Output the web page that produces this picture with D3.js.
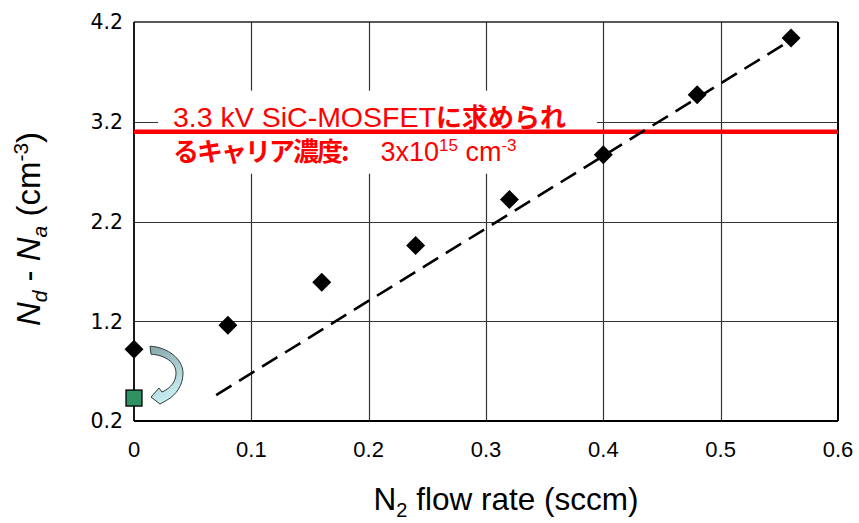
<!DOCTYPE html>
<html>
<head>
<meta charset="utf-8">
<script src="https://cdn.jsdelivr.net/npm/d3@7"></script>
<style>
  body { margin: 0; background: #fff; }
  svg { display: block; }
</style>
</head>
<body>
<svg id="chart"></svg>
<script>
// Data
const flowRate = [0, 0.08, 0.16, 0.24, 0.32, 0.40, 0.48, 0.56];
const carrierConc = [0.92, 1.16, 1.59, 1.96, 2.42, 2.87, 3.47, 4.04];
const annealedFlow = [0];
const annealedConc = [0.43];
const fitFlow = [0.07, 0.56];
const fitConc = [0.46, 4.02];
const targetConc = 3.1;
const xTicks = [0, 0.1, 0.2, 0.3, 0.4, 0.5, 0.6];
const yTicks = [0.2, 1.2, 2.2, 3.2, 4.2];

const width = 859, height = 523;
const margin = { top: 22, right: 21, bottom: 102, left: 134 };
const innerW = width - margin.left - margin.right;
const innerH = height - margin.top - margin.bottom;

const svg = d3.select("#chart").attr("width", width).attr("height", height);
const g = svg.append("g").attr("transform", `translate(${margin.left},${margin.top})`);

const x = d3.scaleLinear().domain([0, 0.6]).range([0, innerW]);
const y = d3.scaleLinear().domain([0.2, 4.2]).range([innerH, 0]);

// grid lines
g.selectAll(".vgrid").data(xTicks.slice(1, -1)).enter().append("line")
  .attr("x1", d => Math.round(x(d)) + 0.5).attr("x2", d => Math.round(x(d)) + 0.5)
  .attr("y1", 0).attr("y2", innerH)
  .attr("stroke", "#333").attr("stroke-width", 1.2);
g.selectAll(".hgrid").data(yTicks.slice(1, -1)).enter().append("line")
  .attr("x1", 0).attr("x2", innerW)
  .attr("y1", d => Math.round(y(d)) + 0.5).attr("y2", d => Math.round(y(d)) + 0.5)
  .attr("stroke", "#333").attr("stroke-width", 1.2);

// frame
g.append("line").attr("x1", 0).attr("x2", innerW).attr("y1", 0).attr("y2", 0)
  .attr("stroke", "#222").attr("stroke-width", 1.5);
g.append("line").attr("x1", innerW).attr("x2", innerW).attr("y1", 0).attr("y2", innerH)
  .attr("stroke", "#000").attr("stroke-width", 2);
g.append("line").attr("x1", 0).attr("x2", innerW).attr("y1", innerH).attr("y2", innerH)
  .attr("stroke", "#000").attr("stroke-width", 2.2);
g.append("line").attr("x1", 0).attr("x2", 0).attr("y1", 0).attr("y2", innerH)
  .attr("stroke", "#000").attr("stroke-width", 1.8);

// annotation text with white background
const note = g.append("g");
const noteBg = note.append("rect").attr("fill", "#fff");
const noteText = note.append("g").attr("fill", "#ff0000");
const latin = "'Liberation Sans', Arial, sans-serif";
const cjk = "'Noto Sans CJK JP', sans-serif";

const line1 = noteText.append("text")
  .attr("x", 39).attr("y", y(targetConc) - 5);
line1.append("tspan").style("font-family", latin).style("font-size", "28.5px")
  .text("3.3 kV SiC-MOSFET");
line1.append("tspan").style("font-family", cjk).style("font-size", "26px")
  .style("font-weight", "bold").text("に求められ");

const line2 = noteText.append("text")
  .attr("x", 39).attr("y", y(targetConc) + 29)
  .style("font-size", "27px");
line2.append("tspan").style("font-family", cjk).style("font-size", "26px")
  .style("letter-spacing", "-2px")
  .style("font-weight", "bold").text("るキャリア濃度:");
line2.append("tspan").attr("dx", 33).style("font-family", latin)
  .text("3x10");
line2.append("tspan").attr("dy", -10).style("font-family", latin)
  .style("font-size", "17px").text("15");
line2.append("tspan").attr("dy", 10).style("font-family", latin)
  .text(" cm");
line2.append("tspan").attr("dy", -10).style("font-family", latin)
  .style("font-size", "17px").text("-3");

const bb = noteText.node().getBBox();
noteBg.attr("x", bb.x - 15).attr("y", bb.y - 6)
  .attr("width", bb.width + 46).attr("height", bb.height + 12);

// required concentration line
g.append("line")
  .attr("x1", x(0)).attr("x2", x(0.6))
  .attr("y1", y(targetConc)).attr("y2", y(targetConc))
  .attr("stroke", "#ff0000").attr("stroke-width", 4.5);
noteText.raise();

// fit line
g.append("path")
  .datum(fitFlow.map((f, i) => [f, fitConc[i]]))
  .attr("fill", "none").attr("stroke", "#000")
  .attr("stroke-width", 2.6).attr("stroke-dasharray", "18,9")
  .attr("d", d3.line().x(d => x(d[0])).y(d => y(d[1])));

// curved arrow from as-grown point to annealed point
const defs = svg.append("defs");
const grad = defs.append("linearGradient").attr("id", "arrowGrad")
  .attr("x1", "0").attr("y1", "0").attr("x2", "0.3").attr("y2", "1");
grad.append("stop").attr("offset", "0").attr("stop-color", "#87a6a7");
grad.append("stop").attr("offset", "1").attr("stop-color", "#c9eef2");
const ax = x(annealedFlow[0]);
const ay0 = y(carrierConc[0]);
const dyArrow = y(annealedConc[0]) - ay0;
g.append("path")
  .attr("transform", `translate(${ax},${ay0})`)
  .attr("d", `M16,-3 C34,-2 49,10 49,24 C49,36 42,${dyArrow - 3} 33,${dyArrow + 2}
    L26,${dyArrow + 6} L17,${dyArrow - 1} L25,${dyArrow - 10} L28,${dyArrow - 6}
    C37,${dyArrow - 10} 42,32 42,24 C42,13 31,6 17,5 Z`)
  .attr("fill", "url(#arrowGrad)").attr("stroke", "#2c3b3b").attr("stroke-width", 1);

// data points (diamonds)
g.selectAll(".pt").data(flowRate.map((f, i) => [f, carrierConc[i]])).enter()
  .append("path")
  .attr("transform", d => `translate(${x(d[0])},${y(d[1])})`)
  .attr("d", "M0,-9.5 L9.5,0 L0,9.5 L-9.5,0 Z")
  .attr("fill", "#000");

// annealed point (green square)
g.selectAll(".sq").data(annealedFlow.map((f, i) => [f, annealedConc[i]])).enter()
  .append("rect")
  .attr("x", d => x(d[0]) - 8).attr("y", d => y(d[1]) - 8)
  .attr("width", 16).attr("height", 16)
  .attr("fill", "#2f9263").attr("stroke", "#000").attr("stroke-width", 1.3);

// tick labels
g.selectAll(".ylab").data(yTicks).enter().append("text")
  .attr("x", -11).attr("y", d => y(d)).attr("dy", "0.36em")
  .attr("text-anchor", "end")
  .style("font-family", "'DejaVu Sans', Verdana, sans-serif").style("font-size", "20.5px")
  .attr("fill", "#000")
  .text(d => d.toFixed(1));

g.selectAll(".xlab").data(xTicks).enter().append("text")
  .attr("x", d => x(d)).attr("y", innerH + 36)
  .attr("text-anchor", "middle")
  .style("font-family", latin).style("font-size", "22px")
  .attr("fill", "#000")
  .text(d => d === 0 ? "0" : d.toFixed(1));

// x-axis title
const xt = g.append("text")
  .attr("x", innerW / 2 + 20).attr("y", innerH + 89)
  .attr("text-anchor", "middle")
  .style("font-family", latin).style("font-size", "31.5px")
  .attr("fill", "#000");
xt.append("tspan").text("N");
xt.append("tspan").attr("dy", 7).style("font-size", "20px").text("2");
xt.append("tspan").attr("dy", -7).text(" flow rate (sccm)");

// y-axis title
const yt = svg.append("text")
  .attr("transform", `translate(40,229) rotate(-90)`)
  .attr("text-anchor", "middle")
  .style("font-family", latin).style("font-size", "33px")
  .attr("fill", "#000");
yt.append("tspan").style("font-style", "italic").text("N");
yt.append("tspan").attr("dy", 7).style("font-style", "italic").style("font-size", "21px").text("d");
yt.append("tspan").attr("dy", -7).text(" - ");
yt.append("tspan").style("font-style", "italic").text("N");
yt.append("tspan").attr("dy", 7).style("font-style", "italic").style("font-size", "21px").text("a");
yt.append("tspan").attr("dy", -7).text(" (cm");
yt.append("tspan").attr("dy", -12).style("font-size", "21px").text("-3");
yt.append("tspan").attr("dy", 12).text(")");
</script>
</body>
</html>
